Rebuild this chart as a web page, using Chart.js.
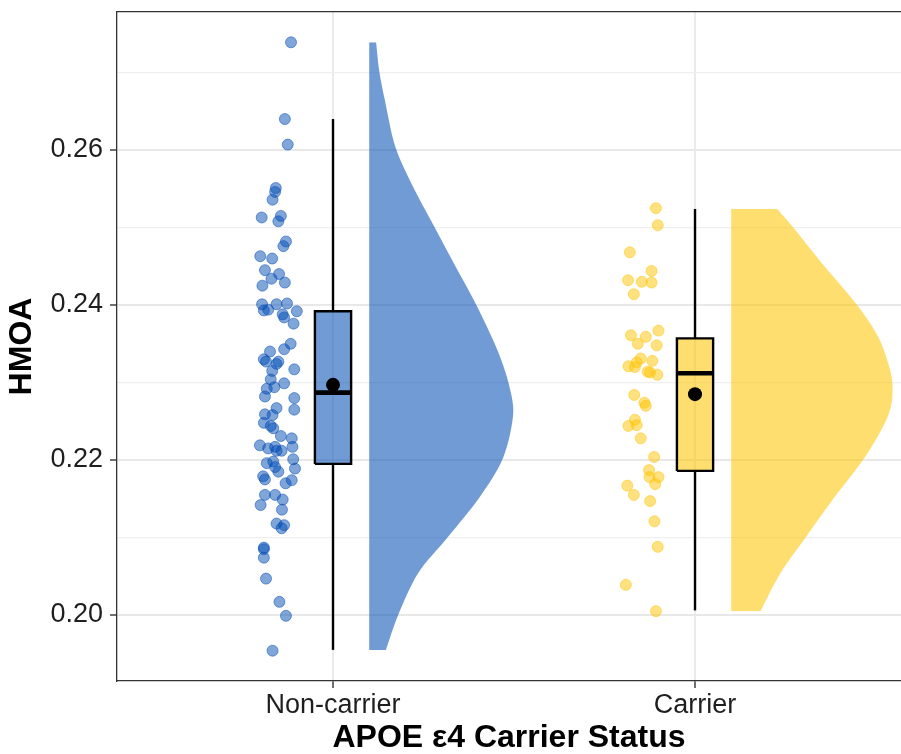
<!DOCTYPE html>
<html>
<head>
<meta charset="utf-8">
<script src="https://cdn.jsdelivr.net/npm/chart.js@4.4.1/dist/chart.umd.min.js"></script>
<style>
  html, body { margin: 0; padding: 0; background: #fff; overflow: hidden; }
  #chart { display: block; }
</style>
</head>
<body>
<canvas id="chart" width="901" height="754"></canvas>
<script>
const categories = ['Non-carrier', 'Carrier'];
const yTicks = [0.20, 0.22, 0.24, 0.26];

// individual HMOA values and their horizontal jitter (category units)
const nonCarrierHMOA = [
  0.2739, 0.2640, 0.2607, 0.2551, 0.2546, 0.2536, 0.2513, 0.2515, 0.2508, 0.2482,
  0.2476, 0.2463, 0.2460, 0.2445, 0.2440, 0.2434, 0.2429, 0.2425, 0.2401, 0.2401,
  0.2402, 0.2393, 0.2394, 0.2392, 0.2388, 0.2384, 0.2376, 0.2350, 0.2343, 0.2340,
  0.2330, 0.2327, 0.2327, 0.2324, 0.2317, 0.2315, 0.2304, 0.2299, 0.2292, 0.2294,
  0.2282, 0.2280, 0.2267, 0.2265, 0.2259, 0.2258, 0.2248, 0.2244, 0.2241, 0.2231,
  0.2228, 0.2217, 0.2219, 0.2215, 0.2217, 0.2212, 0.2212, 0.2201, 0.2196, 0.2198,
  0.2191, 0.2189, 0.2185, 0.2179, 0.2175, 0.2174, 0.2170, 0.2155, 0.2155, 0.2149,
  0.2142, 0.2136, 0.2118, 0.2116, 0.2112, 0.2087, 0.2085, 0.2074, 0.2047, 0.2017,
  0.1999, 0.1954
];
const nonCarrierJitter = [
  -0.116, -0.133, -0.125, -0.158, -0.160, -0.167, -0.197, -0.144, -0.151, -0.130,
  -0.137, -0.201, -0.168, -0.188, -0.149, -0.170, -0.133, -0.195, -0.196, -0.156,
  -0.127, -0.191, -0.179, -0.100, -0.139, -0.135, -0.109, -0.117, -0.135, -0.174,
  -0.191, -0.185, -0.151, -0.156, -0.107, -0.168, -0.172, -0.135, -0.183, -0.162,
  -0.188, -0.107, -0.156, -0.107, -0.188, -0.167, -0.191, -0.172, -0.165, -0.144,
  -0.114, -0.112, -0.202, -0.179, -0.160, -0.156, -0.142, -0.110, -0.183, -0.165,
  -0.160, -0.105, -0.151, -0.193, -0.188, -0.114, -0.131, -0.188, -0.160, -0.139,
  -0.200, -0.141, -0.156, -0.135, -0.142, -0.191, -0.191, -0.191, -0.185, -0.148,
  -0.130, -0.167
];
const carrierHMOA = [
  0.2525, 0.2503, 0.2468, 0.2444, 0.2432, 0.2430, 0.2429, 0.2414, 0.2367, 0.2361,
  0.2359, 0.2350, 0.2348, 0.2331, 0.2328, 0.2326, 0.2321, 0.2320, 0.2314, 0.2313,
  0.2310, 0.2284, 0.2274, 0.2270, 0.2252, 0.2244, 0.2245, 0.2228, 0.2204, 0.2187,
  0.2178, 0.2178, 0.2169, 0.2167, 0.2155, 0.2147, 0.2121, 0.2088, 0.2039, 0.2005
];
const carrierJitter = [
  -0.108, -0.103, -0.180, -0.120, -0.185, -0.147, -0.120, -0.169, -0.101, -0.177,
  -0.136, -0.158, -0.106, -0.150, -0.118, -0.161, -0.184, -0.166, -0.131, -0.124,
  -0.104, -0.168, -0.140, -0.136, -0.166, -0.184, -0.161, -0.150, -0.113, -0.127,
  -0.126, -0.101, -0.110, -0.187, -0.169, -0.124, -0.112, -0.103, -0.191, -0.108
];

// boxplot summaries per group
const boxLow = [0.1955, 0.2006];
const boxQ1 = [0.2195, 0.2186];
const boxMedian = [0.2287, 0.2312];
const boxQ3 = [0.2392, 0.2357];
const boxHigh = [0.2640, 0.2524];
const groupMeans = [0.2297, 0.2285];

// half-violin outline: HMOA level and density half-width (category units)
const nonCarrierDensityY = [0.1955, 0.2000, 0.2054, 0.2101, 0.2152, 0.2203, 0.2261, 0.2301, 0.2342,
  0.2400, 0.2452, 0.2501, 0.2548, 0.2603, 0.2665, 0.2701, 0.2739];
const nonCarrierDensityW = [0.046, 0.080, 0.135, 0.218, 0.305, 0.370, 0.398, 0.384, 0.354,
  0.296, 0.236, 0.180, 0.126, 0.073, 0.043, 0.028, 0.019];
const carrierDensityY = [0.2005, 0.2054, 0.2101, 0.2148, 0.2200, 0.2235, 0.2258, 0.2280, 0.2310,
  0.2357, 0.2400, 0.2456, 0.2499, 0.2524];
const carrierDensityW = [0.081, 0.136, 0.207, 0.279, 0.364, 0.410, 0.434, 0.445, 0.442,
  0.408, 0.348, 0.247, 0.173, 0.127];

const groups = [
  { hmoa: nonCarrierHMOA, jitter: nonCarrierJitter, dy: nonCarrierDensityY, dw: nonCarrierDensityW, rgb: '0,76,179' },
  { hmoa: carrierHMOA, jitter: carrierJitter, dy: carrierDensityY, dw: carrierDensityW, rgb: '255,196,0' }
];

const BOX_HALF = 0.05;
const VIOLIN_GAP = 0.1;
const datasets = [];

groups.forEach(function (g, i) {
  const pos = i + 1;
  const fillCol = 'rgba(' + g.rgb + ',0.56)';
  // half violin
  datasets.push({
    type: 'line', indexAxis: 'y', order: 6,
    data: g.dy.map((y, k) => ({ x: pos + VIOLIN_GAP + g.dw[k], y: y })),
    fill: { value: pos + VIOLIN_GAP },
    backgroundColor: fillCol, borderWidth: 0, pointRadius: 0, tension: 0.3
  });
  // jittered raw points
  datasets.push({
    type: 'line', showLine: false, order: 5,
    data: g.hmoa.map((y, k) => ({ x: pos + g.jitter[k], y: y })),
    pointRadius: 5.5, pointBorderWidth: 1,
    pointBackgroundColor: 'rgba(' + g.rgb + ',0.5)',
    pointBorderColor: 'rgba(' + g.rgb + ',0.5)'
  });
  // whiskers
  [[boxLow[i], boxQ1[i]], [boxQ3[i], boxHigh[i]]].forEach(function (w) {
    datasets.push({
      type: 'line', order: 4,
      data: [{ x: pos, y: w[0] }, { x: pos, y: w[1] }],
      borderColor: '#000', borderWidth: 2.4, pointRadius: 0, fill: false
    });
  });
  // box fill
  datasets.push({
    type: 'line', indexAxis: 'y', order: 3,
    data: [{ x: pos + BOX_HALF, y: boxQ1[i] }, { x: pos + BOX_HALF, y: boxQ3[i] }],
    fill: { value: pos - BOX_HALF },
    backgroundColor: fillCol, borderWidth: 0, pointRadius: 0
  });
  // box outline
  datasets.push({
    type: 'line', order: 2,
    data: [
      { x: pos - BOX_HALF, y: boxQ1[i] }, { x: pos + BOX_HALF, y: boxQ1[i] },
      { x: pos + BOX_HALF, y: boxQ3[i] }, { x: pos - BOX_HALF, y: boxQ3[i] },
      { x: pos - BOX_HALF, y: boxQ1[i] }
    ],
    borderColor: '#000', borderWidth: 2.4, borderJoinStyle: 'miter', pointRadius: 0, fill: false
  });
  // median
  datasets.push({
    type: 'line', order: 1,
    data: [{ x: pos - BOX_HALF, y: boxMedian[i] }, { x: pos + BOX_HALF, y: boxMedian[i] }],
    borderColor: '#000', borderWidth: 4.6, borderCapStyle: 'butt', pointRadius: 0, fill: false
  });
  // mean
  datasets.push({
    type: 'line', showLine: false, order: 0,
    data: [{ x: pos, y: groupMeans[i] }],
    pointRadius: 7, pointBackgroundColor: '#000', pointBorderColor: '#000', pointBorderWidth: 0
  });
});

const isMajor = v => yTicks.some(t => Math.abs(t - v) < 1e-6);

Chart.defaults.font.family = '"Liberation Sans", Arial, sans-serif';
Chart.defaults.color = '#1f1f1f';

new Chart(document.getElementById('chart'), {
  type: 'line',
  data: { datasets: datasets },
  options: {
    responsive: false,
    animation: false,
    layout: { autoPadding: false, padding: { top: 12, left: 0, right: 0, bottom: 0 } },
    plugins: { legend: { display: false }, tooltip: { enabled: false } },
    scales: {
      x: {
        type: 'linear', position: 'bottom',
        min: 0.4033, max: 2.569,
        afterBuildTicks: function (s) { s.ticks = categories.map((c, i) => ({ value: i + 1 })); },
        afterFit: function (s) { s.height = 73; s.paddingLeft = 0; s.paddingRight = 0; },
        ticks: {
          callback: v => categories[Math.round(v) - 1],
          font: { size: 27 }, color: '#1f1f1f', padding: 1, maxRotation: 0, autoSkip: false
        },
        grid: { color: '#ebebeb', lineWidth: 2, tickLength: 7, tickColor: '#333', tickWidth: 1.4 },
        border: { display: true, color: '#333', width: 1.3 },
        title: {
          display: true, text: 'APOE ε4 Carrier Status', color: '#000',
          font: { size: 32, weight: 'bold', lineHeight: 1 }, padding: { top: 0, bottom: 0 }
        }
      },
      xTop: {
        type: 'linear', position: 'top',
        ticks: { display: false },
        grid: { display: false, drawTicks: false },
        border: { display: true, color: '#333', width: 1.3 },
        afterFit: function (s) { s.height = 0; s.paddingLeft = 0; s.paddingRight = 0; }
      },
      y: {
        type: 'linear', position: 'left',
        min: 0.19149, max: 0.27781,
        afterFit: function (s) { s.width = 117; s.paddingTop = 0; s.paddingBottom = 0; },
        ticks: {
          stepSize: 0.01, includeBounds: false,
          callback: v => isMajor(v) ? v.toFixed(2) : '',
          font: { size: 27 }, color: '#1f1f1f', padding: 7
        },
        grid: {
          color: c => isMajor(c.tick.value) ? '#e8e8e8' : '#efefef',
          lineWidth: c => isMajor(c.tick.value) ? 2 : 1.3,
          tickLength: 7,
          tickColor: c => isMajor(c.tick.value) ? '#333' : 'rgba(0,0,0,0)',
          tickWidth: 1.4
        },
        border: { display: true, color: '#333', width: 1.3 },
        title: {
          display: true, text: 'HMOA', color: '#000',
          font: { size: 32, weight: 'bold', lineHeight: 1 }, padding: { top: 6, bottom: 0 }
        }
      }
    }
  }
});
</script>
</body>
</html>
